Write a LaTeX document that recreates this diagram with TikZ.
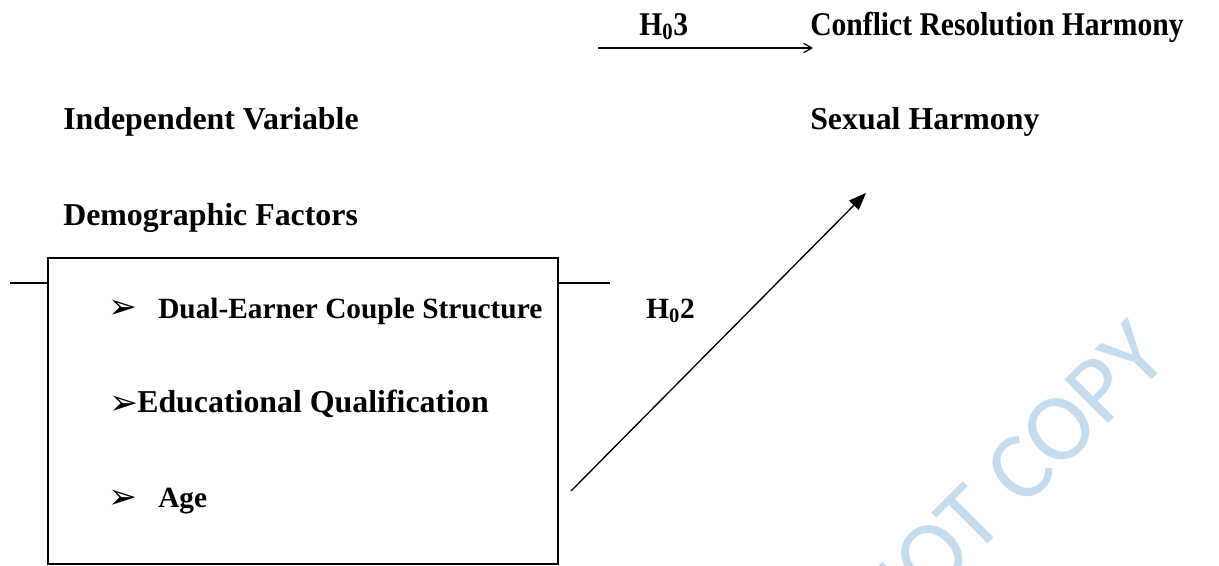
\documentclass[tikz,border=0pt]{standalone}
\usepackage{fontspec}
\setmainfont{Liberation Serif}
\newfontfamily\dejavu{DejaVu Sans}
\newfontfamily\wmfont{Carlito}
\usetikzlibrary{arrows.meta}
\definecolor{wmblue}{RGB}{197,220,239}
\newcommand{\tallbox}[1]{\scalebox{1}[1.12]{#1}}
\begin{document}
\begin{tikzpicture}[x=0.75pt,y=-0.75pt,
  head/.style={font=\fontsize{23.9}{28}\selectfont\bfseries, inner sep=0pt, anchor=base west},
  tophead/.style={font=\fontsize{22.2}{26}\selectfont\bfseries, inner sep=0pt, anchor=base west},
  itemtext/.style={font=\fontsize{22}{26}\selectfont\bfseries, inner sep=0pt, anchor=base west},
  bullet/.style={font=\dejavu\fontsize{26}{30}\selectfont, inner sep=0pt, anchor=center},
  frame/.style={draw, line width=1.5pt},
  conn/.style={line width=1pt}]
\useasboundingbox (0,0) rectangle (1219,565);
\clip (0,0) rectangle (1219,565);
% watermark
\node[font=\wmfont\fontsize{72}{80}\selectfont, text=wmblue, rotate=45, inner sep=0pt] (wm) at (1008,481) {NOT COPY};
% top row
\node[tophead] (h3) at (639,35) {\tallbox{H\textsubscript{0}3}};
\node[tophead] (crh) at (810,35) {\tallbox{Conflict Resolution Harmony}};
\coordinate (a3s) at (598,48);
\coordinate (a3e) at (813,48);
\draw[conn, -{Straight Barb[length=6pt,width=7pt]}] (a3s) -- (a3e);
% headings
\node[head] (iv) at (63,129) {Independent Variable};
\node[head] (sh) at (810,129) {Sexual Harmony};
\node[head] (df) at (63,225) {Demographic Factors};
% box
\node[frame, minimum width=510*0.75pt, minimum height=306*0.75pt, inner sep=0pt, anchor=north west] (box) at (47,257) {};
\coordinate (ll) at (10,283);
\coordinate (rr) at (610,283);
\draw[frame] (ll) -- (ll -| box.west);
\draw[frame] (rr -| box.east) -- (rr);
% items
\node[bullet] (b1) at (123,309) {➢};
\node[itemtext] (t1) at (158,318) {Dual-Earner Couple Structure};
\node[bullet] (b2) at (124,405) {➢};
\node[head] (t2) at (137,412) {Educational Qualification};
\node[bullet] (b3) at (123,499) {➢};
\node[itemtext] (t3) at (158,507) {Age};
% H02 arrow
\node[itemtext] (h2) at (646,318) {H\textsubscript{0}2};
\coordinate (a2s) at (571,491);
\coordinate (a2e) at (866,193);
\draw[conn, -{Triangle[length=13pt,width=10pt]}] (a2s) -- (a2e);
\end{tikzpicture}
\end{document}
